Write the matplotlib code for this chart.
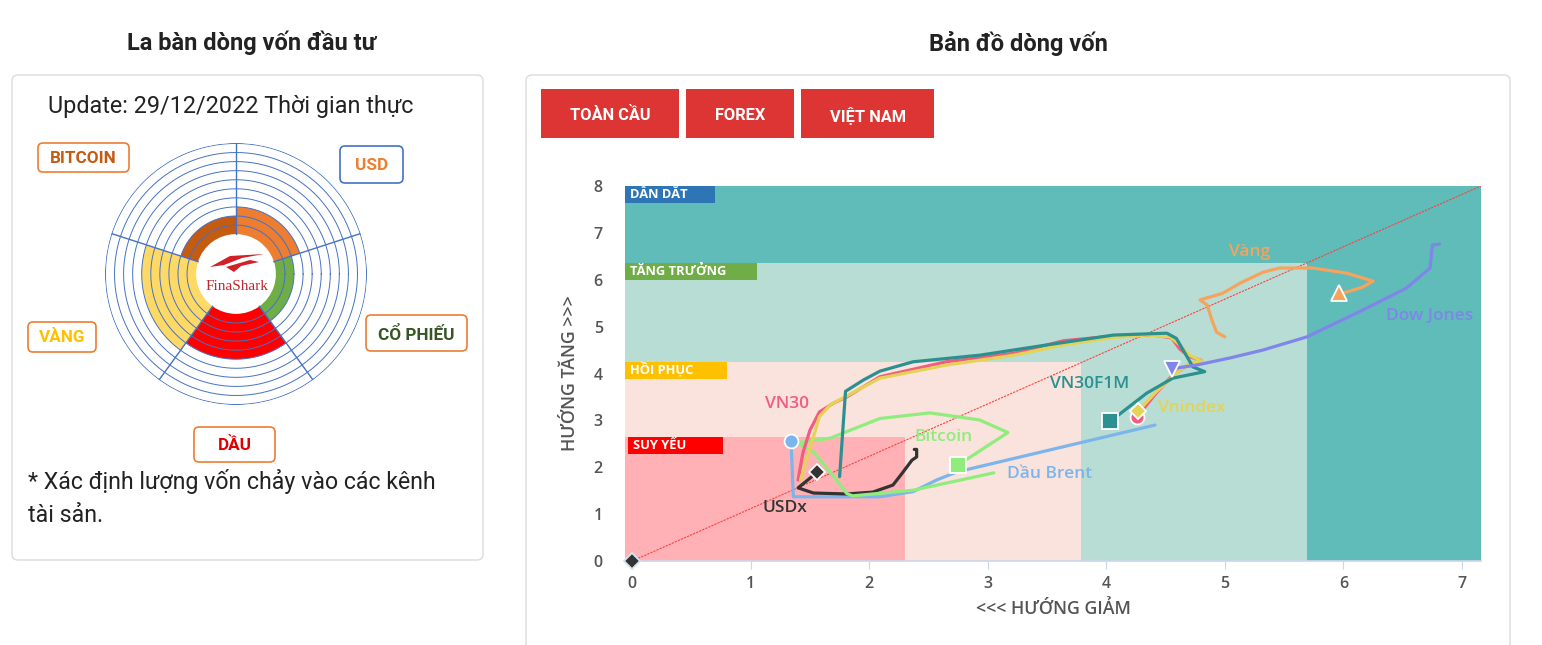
import numpy as np
import matplotlib
matplotlib.use("Agg")
import matplotlib.pyplot as plt
from matplotlib.patches import FancyBboxPatch, Rectangle, Polygon

plt.rcParams['font.family'] = ['Roboto', 'DejaVu Sans']

W, H = 1542, 645
CHART_FONT = ['Open Sans', 'DejaVu Sans']

# ---- La bàn dòng vốn (compass) ----
compass_assets = ['USD', 'BITCOIN', 'VÀNG', 'DẦU', 'CỔ PHIẾU']
compass_levels = [3, 2, 6, 5, 2]          # số vòng được tô
compass_angles = [54, 126, 198, 270, 342]  # tâm mỗi cung (độ)
compass_colors = ['#ed7d31', '#c55a11', '#ffd966', '#ff0000', '#70ad47']
compass_text_colors = ['#ed7d31', '#c55a11', '#ffc000', '#e00000', '#375623']

# ---- Bản đồ dòng vốn: các vùng ----
zone_names = ['DẪN DẮT', 'TĂNG TRƯỞNG', 'HỒI PHỤC', 'SUY YẾU']
zone_x = [7.16, 5.69, 3.79, 2.30]
zone_y = [8.0, 6.35, 4.24, 2.64]
zone_colors = ['#5fbcb9', '#b8ddd5', '#f9e3dc', '#ffb1b5']
zone_tag_colors = ['#2e75b6', '#70ad47', '#ffc000', '#ff0000']

# ---- các chuỗi (x = hướng giảm, y = hướng tăng), điểm cuối là điểm hiện tại ----
origin_x = [0]
origin_y = [0]

usdx_x = [2.38, 2.40, 2.40, 2.36, 2.28, 2.20, 2.03, 1.81, 1.53, 1.40, 1.56]
usdx_y = [2.38, 2.38, 2.22, 2.15, 1.88, 1.62, 1.47, 1.43, 1.45, 1.56, 1.89]

brent_x = [4.41, 2.74, 2.57, 2.37, 2.09, 1.36, 1.34]
brent_y = [2.90, 1.90, 1.73, 1.48, 1.37, 1.37, 2.56]

btc_x = [3.05, 2.37, 1.86, 1.81, 1.70, 1.53, 1.39, 1.67, 2.09, 2.51, 2.93, 3.17, 2.75]
btc_y = [1.88, 1.51, 1.39, 1.44, 1.80, 2.33, 2.52, 2.62, 3.04, 3.16, 3.01, 2.74, 2.05]

vn30_x = [1.40, 1.44, 1.50, 1.58, 1.70, 1.81, 2.09, 2.65, 3.22, 3.64, 4.06, 4.40,
          4.55, 4.62, 4.70, 4.80, 4.70, 4.56, 4.42, 4.34, 4.26]
vn30_y = [1.73, 2.30, 2.79, 3.18, 3.37, 3.50, 3.93, 4.25, 4.43, 4.70, 4.80, 4.82,
          4.76, 4.52, 4.36, 4.28, 4.20, 3.97, 3.58, 3.33, 3.08]

vni_x = [1.42, 1.47, 1.53, 1.58, 1.67, 1.81, 2.09, 2.65, 3.22, 3.64, 4.06, 4.34,
         4.54, 4.62, 4.70, 4.80, 4.71, 4.62, 4.42, 4.27]
vni_y = [1.73, 2.15, 2.65, 3.08, 3.33, 3.52, 3.90, 4.18, 4.39, 4.61, 4.77, 4.82,
         4.78, 4.61, 4.39, 4.27, 4.22, 4.07, 3.61, 3.20]

vn30f_x = [1.75, 1.80, 1.95, 2.09, 2.37, 2.93, 3.50, 4.06, 4.51, 4.59, 4.68, 4.73,
           4.83, 4.56, 4.34, 4.10, 4.03]
vn30f_y = [1.80, 3.62, 3.86, 4.05, 4.25, 4.39, 4.61, 4.82, 4.86, 4.75, 4.36, 4.14,
           4.04, 3.90, 3.58, 3.11, 2.99]

vang_x = [5.00, 4.93, 4.89, 4.85, 4.79, 4.98, 5.13, 5.32, 5.46, 5.74, 6.03, 6.25,
          6.16, 6.03, 5.96]
vang_y = [4.78, 4.88, 5.14, 5.46, 5.57, 5.71, 5.93, 6.16, 6.25, 6.25, 6.14, 5.97,
          5.84, 5.74, 5.71]

dow_x = [6.81, 6.75, 6.73, 6.53, 6.16, 5.69, 5.32, 5.04, 4.76, 4.55]
dow_y = [6.76, 6.74, 6.25, 5.82, 5.35, 4.78, 4.50, 4.33, 4.18, 4.10]

series = [
    # nhãn, x, y, màu, marker, cỡ marker, vị trí nhãn
    ('Dầu Brent', brent_x, brent_y, '#7cb5ec', 'o', 10, (3.52, 1.86)),
    ('USDx', usdx_x, usdx_y, '#333333', 'D', 8, (1.29, 1.13)),
    ('Bitcoin', btc_x, btc_y, '#90ed7d', 's', 11, (2.63, 2.64)),
    ('VN30', vn30_x, vn30_y, '#f15c80', 'o', 10, (1.31, 3.35)),
    ('Vnindex', vni_x, vni_y, '#e4d354', 'D', 8, (4.72, 3.26)),
    ('VN30F1M', vn30f_x, vn30f_y, '#2b908f', 's', 11, (3.86, 3.77)),
    ('Vàng', vang_x, vang_y, '#f7a35c', '^', 11, (5.21, 6.59)),
    ('Dow Jones', dow_x, dow_y, '#8085e9', 'v', 11, (6.73, 5.22)),
]

fig = plt.figure(figsize=(W / 100, H / 100), dpi=100)

# ---------- lớp nền (tọa độ pixel) ----------
bg = fig.add_axes([0, 0, 1, 1], zorder=0)
bg.set_xlim(0, W)
bg.set_ylim(H, 0)
bg.axis('off')

bg.text(252, 43, 'La bàn dòng vốn đầu tư', ha='center', va='center',
        fontsize=17, fontweight='bold', color='#222222')
bg.text(1018, 43, 'Bản đồ dòng vốn', ha='center', va='center',
        fontsize=17, fontweight='bold', color='#222222')

for (x0, y0, x1, y1) in [(12, 75, 483, 560), (526, 75, 1510, 680)]:
    bg.add_patch(FancyBboxPatch((x0, y0), x1 - x0, y1 - y0,
                                boxstyle='round,pad=0,rounding_size=6',
                                fc='white', ec='#dcdcdc', lw=1))

bg.text(48, 106, 'Update: 29/12/2022 Thời gian thực', ha='left', va='center',
        fontsize=16.8, color='#222222')
bg.text(28, 481, '* Xác định lượng vốn chảy vào các kênh', ha='left', va='center',
        fontsize=16.7, color='#222222')
bg.text(28, 516, 'tài sản.', ha='left', va='center', fontsize=16.7, color='#222222')

# nút
for label, (x0, x1) in zip(['TOÀN CẦU', 'FOREX', 'VIỆT NAM'],
                           [(541, 679), (686, 794), (801, 934)]):
    bg.add_patch(Rectangle((x0, 89), x1 - x0, 49, fc='#dd3434', ec='none'))
    bg.text((x0 + x1) / 2, 115, label, ha='center', va='center', fontsize=11.8,
            fontweight='bold', color='white')

# nhãn của la bàn
tag_boxes = {'BITCOIN': (38, 143, 129, 172), 'USD': (340, 146, 403, 183),
             'VÀNG': (28, 322, 96, 352), 'CỔ PHIẾU': (366, 315, 467, 351),
             'DẦU': (194, 427, 275, 462)}
for name, tc in zip(compass_assets, compass_text_colors):
    x0, y0, x1, y1 = tag_boxes[name]
    ec = '#4472c4' if name == 'USD' else '#ed7d31'
    bg.add_patch(FancyBboxPatch((x0, y0), x1 - x0, y1 - y0,
                                boxstyle='round,pad=0,rounding_size=5',
                                fc='white', ec=ec, lw=1.2))
    bg.text((x0 + x1) / 2, (y0 + y1) / 2 + 1, name, ha='center', va='center',
            fontsize=12.3, fontweight='bold', color=tc)

# logo giữa
bg.add_patch(Polygon([(210, 267), (230, 256), (264, 254), (242, 258), (224, 265)],
                     fc='#d32027', ec='none', zorder=5))
bg.add_patch(Polygon([(226, 267), (250, 260), (259, 262), (241, 266), (234, 272)],
                     fc='#d32027', ec='none', zorder=5))
bg.text(237, 287, 'FinaShark', ha='center', va='center', fontsize=11,
        family='Liberation Serif', color='#c0272d', zorder=5)

# ---------- la bàn (polar) ----------
cx, cy, R = 236, 274, 131
pol = fig.add_axes([(cx - R) / W, (H - cy - R) / H, 2 * R / W, 2 * R / H],
                   projection='polar', zorder=1)
r0 = 4.4
rmax = r0 + 10
pol.bar(np.deg2rad(compass_angles), compass_levels, width=np.deg2rad(72),
        bottom=r0, color=compass_colors, edgecolor='none')
th = np.linspace(0, 2 * np.pi, 361)
for k in range(1, 11):
    pol.plot(th, np.full_like(th, r0 + k), color='#4472c4', lw=0.7)
for a in compass_angles:
    b = np.deg2rad(a + 36)
    pol.plot([b, b], [r0, rmax], color='#4472c4', lw=1.0)
pol.set_ylim(0, rmax + 0.05)
pol.set_xticks([])
pol.set_yticks([])
pol.grid(False)
pol.spines['polar'].set_visible(False)
pol.patch.set_alpha(0)
bg.add_patch(plt.Circle((cx, cy), 38, fc='white', ec='none', zorder=4))

# ---------- bản đồ dòng vốn ----------
ax = fig.add_axes([625 / W, (H - 561) / H, 856 / W, 375 / H], zorder=2)
xmin, xmax = -0.06, 7.16
ax.set_xlim(xmin, xmax)
ax.set_ylim(0, 8)

tag_w_px = [90, 132, 102, 95]
px_x = (xmax - xmin) / 856
px_y = 8 / 375
for name, zx, zy, zc, tc, tw in zip(zone_names, zone_x, zone_y, zone_colors,
                                    zone_tag_colors, tag_w_px):
    ax.add_patch(Rectangle((xmin, 0), zx - xmin, zy, fc=zc, ec='none', zorder=0))
    tx = xmin + (3 if name == 'SUY YẾU' else 0) * px_x
    ax.add_patch(Rectangle((tx, zy - 17 * px_y), tw * px_x, 17 * px_y,
                           fc=tc, ec='none', zorder=1))
    ax.text(tx + 5 * px_x, zy - 8 * px_y, name, ha='left', va='center',
            fontsize=9.3, fontweight='bold', color='white', zorder=2,
            family=CHART_FONT)

ax.plot([0, xmax], [0, 8], color='#ff4040', lw=0.8, ls=(0, (2, 1)), zorder=3)

for name, xs, ys, col, mk, ms, (lx, ly) in series:
    ax.plot(xs, ys, color=col, lw=2.3, zorder=4, solid_joinstyle='round',
            solid_capstyle='round')
for name, xs, ys, col, mk, ms, (lx, ly) in series:
    ax.plot(xs[-1], ys[-1], marker=mk, ms=ms, color=col, mec='white', mew=1.3,
            zorder=6, ls='none')
    ax.text(lx, ly, name, ha='center', va='center', fontsize=12.5, color=col,
            fontweight='semibold', zorder=7, family=CHART_FONT)
ax.plot(origin_x, origin_y, marker='D', ms=8, color='#333333', mec='#d6e4f0',
        mew=1.3, ls='none', zorder=6, clip_on=False)

for s in ['top', 'right', 'left']:
    ax.spines[s].set_visible(False)
ax.spines['bottom'].set_color('#ccd6eb')
ax.spines['bottom'].set_linewidth(1.2)
ax.set_xticks(range(8))
ax.set_yticks(range(9))
ax.tick_params(axis='x', length=6, color='#ccd6eb', pad=5, labelsize=11.5,
               labelcolor='#555555')
ax.tick_params(axis='y', length=0, pad=16, labelsize=11.5, labelcolor='#555555')
for t in ax.get_xticklabels() + ax.get_yticklabels():
    t.set_family(CHART_FONT)
    t.set_fontweight('semibold')
ax.set_xlabel('<<< HƯỚNG GIẢM', fontsize=12.8, color='#555555',
              fontweight='semibold', family=CHART_FONT)
ax.set_ylabel('HƯỚNG TĂNG >>>', fontsize=12.8, color='#555555',
              fontweight='semibold', family=CHART_FONT)
ax.xaxis.set_label_coords((1053 - 625) / 856, (561 - 609) / 375)
ax.yaxis.set_label_coords((570 - 625) / 856, (561 - 373) / 375)
ax.xaxis.label.set_va('center')
ax.yaxis.label.set_va('center')

fig.savefig('out.png', dpi=100)
